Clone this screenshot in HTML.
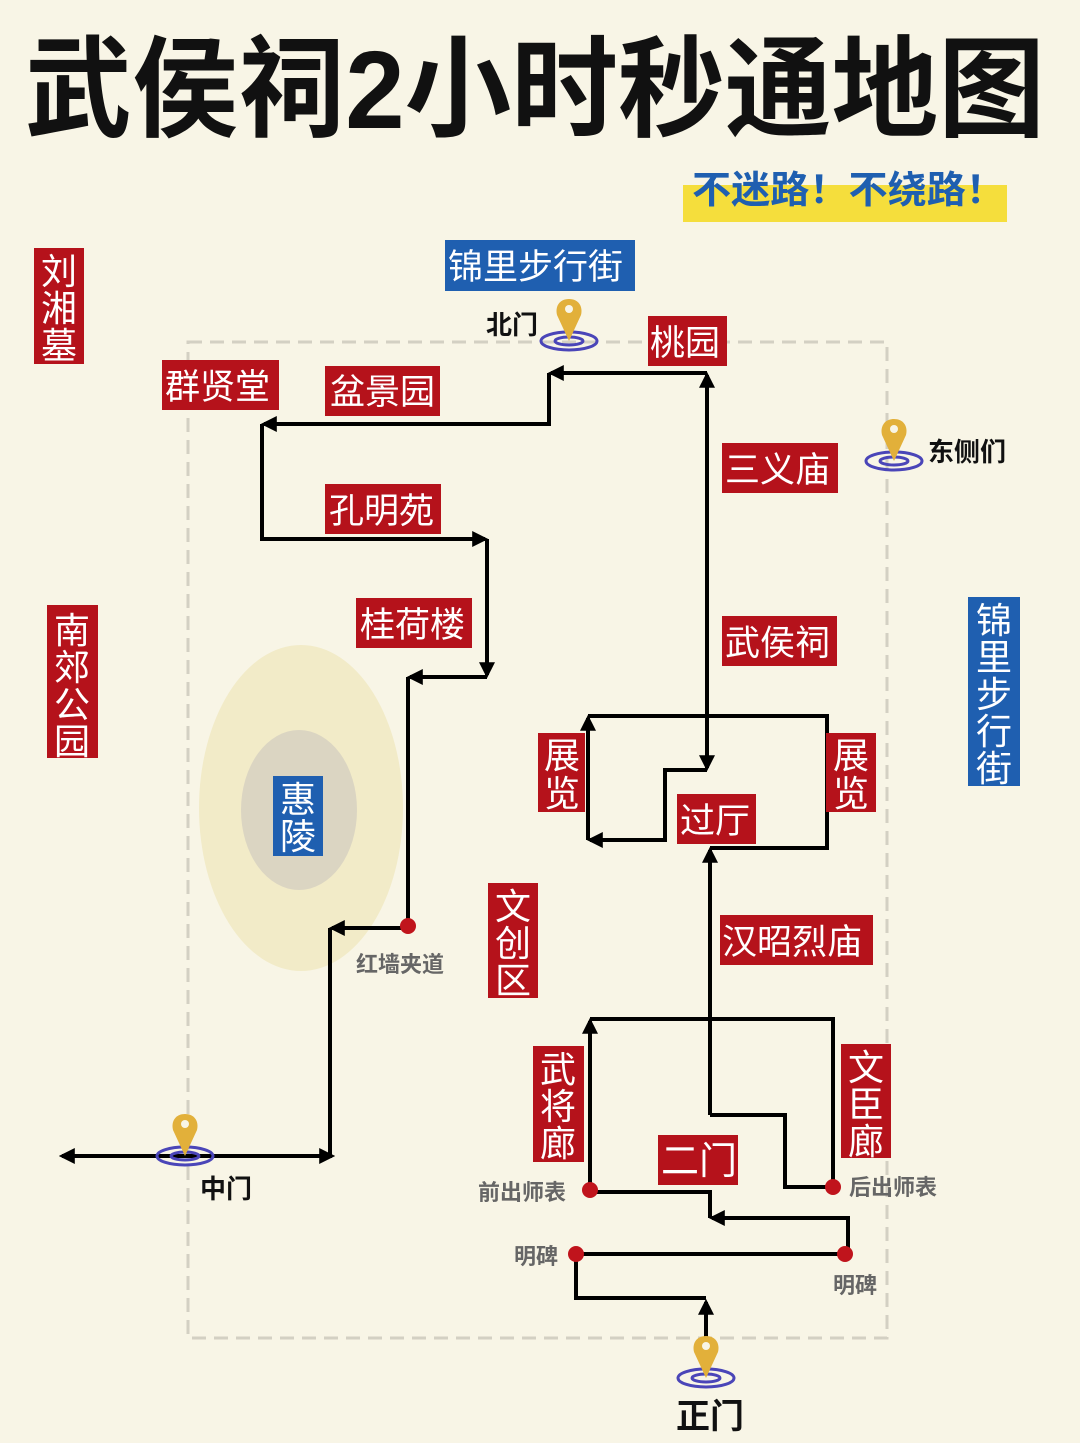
<!DOCTYPE html>
<html><head><meta charset="utf-8"><style>
html,body{margin:0;padding:0;background:#f8f5e6;}
svg{display:block}
text{font-family:"Liberation Sans","Noto Sans CJK SC",sans-serif;}
</style></head><body>
<svg width="1080" height="1443" viewBox="0 0 1080 1443" xmlns="http://www.w3.org/2000/svg">
<defs>
<marker id="a" viewBox="0 0 10 10" refX="8" refY="5" markerWidth="4" markerHeight="4" orient="auto-start-reverse"><path d="M0,0 L10,5 L0,10 z" fill="#000"/></marker>
<g id="pin"><path d="M0,-26 C-10,-26 -14,-18 -12,-10 L0,16 L12,-10 C14,-18 10,-26 0,-26z" fill="#e2b03a"/><circle cx="0" cy="-16" r="4" fill="#f8f5e6"/></g>
</defs>
<rect width="1080" height="1443" fill="#f8f5e6"/>
<text x="25" y="128" font-size="110" font-weight="bold" fill="#111" textLength="1020" lengthAdjust="spacingAndGlyphs">武侯祠2小时秒通地图</text>
<rect x="683" y="185" width="324" height="37" fill="#f5de3c"/>
<text x="692" y="203" font-size="38" font-weight="bold" fill="#1f5fb0" textLength="313" lengthAdjust="spacingAndGlyphs">不迷路！不绕路！</text>

<rect x="188" y="342" width="699" height="996" fill="none" stroke="#d3d0c3" stroke-width="3" stroke-dasharray="14,8"/>
<ellipse cx="301" cy="808" rx="102" ry="163" fill="#f2ebc8"/>
<ellipse cx="299" cy="810" rx="58" ry="80" fill="#dbd5c2"/>

<g fill="none" stroke="#000" stroke-width="4">
<path d="M707,768 L707,375" marker-start="" marker-end="url(#a)"/>
<path d="M707,700 L707,768" marker-end="url(#a)"/>
<path d="M707,373 L551,373" marker-end="url(#a)"/>
<path d="M549,373 L549,424 L264,424" marker-end="url(#a)"/>
<path d="M262,424 L262,539 L485,539" marker-end="url(#a)"/>
<path d="M487,539 L487,675" marker-end="url(#a)"/>
<path d="M487,677 L410,677" marker-end="url(#a)"/>
<path d="M408,677 L408,926"/>
<path d="M408,928 L332,928" marker-end="url(#a)"/>
<path d="M330,928 L330,1155"/>
<path d="M62,1156 L332,1156" marker-start="url(#a)" marker-end="url(#a)"/>
<path d="M707,770 L665,770 L665,840 L590,840" marker-end="url(#a)"/>
<path d="M588,840 L588,718" marker-end="url(#a)"/>
<path d="M588,716 L827,716 L827,848 L710,848"/>
<path d="M710,1115 L710,850" marker-end="url(#a)"/>
<path d="M710,1115 L785,1115 L785,1187 L833,1187 L833,1019 L590,1019"/>
<path d="M590,1190 L590,1021" marker-end="url(#a)"/>
<path d="M590,1192 L710,1192 L710,1218"/>
<path d="M848,1254 L848,1218 L712,1218" marker-end="url(#a)"/>
<path d="M576,1254 L845,1254"/>
<path d="M576,1254 L576,1298 L706,1298"/>
<path d="M706,1340 L706,1302" marker-end="url(#a)"/>
</g>
<g fill="#c0141c">
<circle cx="408" cy="926" r="8"/><circle cx="590" cy="1190" r="8"/><circle cx="833" cy="1187" r="8"/>
<circle cx="576" cy="1254" r="8"/><circle cx="845" cy="1254" r="8"/>
</g>

<g fill="none" stroke="#4a45b8" stroke-width="3">
<ellipse cx="569" cy="341" rx="28" ry="9"/><ellipse cx="569" cy="341" rx="14" ry="4"/>
<ellipse cx="894" cy="461" rx="28" ry="9"/><ellipse cx="894" cy="461" rx="14" ry="4"/>
<ellipse cx="185" cy="1156" rx="28" ry="9"/><ellipse cx="185" cy="1156" rx="14" ry="4"/>
<ellipse cx="706" cy="1378" rx="28" ry="9"/><ellipse cx="706" cy="1378" rx="14" ry="4"/>
</g>
<use href="#pin" x="569" y="325"/><use href="#pin" x="894" y="445"/>
<use href="#pin" x="185" y="1140"/><use href="#pin" x="706" y="1362"/>

<g font-weight="bold" fill="#111" font-size="26">
<text x="486" y="334">北门</text>
<text x="928" y="461">东侧们</text>
<text x="200" y="1198">中门</text>
<text x="676" y="1428" font-size="34">正门</text>
</g>
<g font-weight="bold" fill="#666" font-size="22">
<text x="356" y="972">红墙夹道</text>
<text x="478" y="1200">前出师表</text>
<text x="849" y="1195">后出师表</text>
<text x="514" y="1264">明碑</text>
<text x="833" y="1293">明碑</text>
</g>

<!-- horizontal boxes -->
<g fill="#b5121b">
<rect x="648" y="316" width="79" height="50"/><rect x="162" y="360" width="117" height="50"/>
<rect x="325" y="366" width="115" height="50"/><rect x="722" y="443" width="116" height="50"/>
<rect x="325" y="484" width="116" height="50"/><rect x="356" y="598" width="116" height="50"/>
<rect x="722" y="616" width="115" height="50"/><rect x="677" y="794" width="79" height="50"/>
<rect x="720" y="915" width="153" height="50"/><rect x="658" y="1135" width="80" height="50"/>
<rect x="34" y="248" width="50" height="116"/><rect x="47" y="605" width="51" height="153"/>
<rect x="538" y="733" width="47" height="79"/><rect x="826" y="733" width="50" height="79"/>
<rect x="488" y="883" width="50" height="115"/><rect x="533" y="1046" width="51" height="116"/>
<rect x="841" y="1044" width="50" height="114"/>
</g>
<g fill="#1f5fb0">
<rect x="445" y="240" width="190" height="51"/><rect x="968" y="597" width="52" height="189"/>
<rect x="273" y="776" width="50" height="80"/>
</g>
<g fill="#fff" font-size="35">
<text x="650" y="355">桃园</text><text x="165" y="399">群贤堂</text><text x="330" y="404">盆景园</text>
<text x="725" y="482">三义庙</text><text x="329" y="523">孔明苑</text><text x="360" y="637">桂荷楼</text>
<text x="725" y="655">武侯祠</text><text x="680" y="833">过厅</text><text x="722" y="954">汉昭烈庙</text>
<text x="661" y="1174" font-size="38">二门</text>
<text x="448" y="279">锦里步行街</text>
</g>
<g fill="#fff" font-size="36" text-anchor="middle">
<text x="59" y="284">刘</text><text x="59" y="321">湘</text><text x="59" y="358">墓</text>
<text x="72" y="643">南</text><text x="72" y="680">郊</text><text x="72" y="717">公</text><text x="72" y="754">园</text>
<text x="562" y="768">展</text><text x="562" y="806">览</text>
<text x="851" y="768">展</text><text x="851" y="806">览</text>
<text x="513" y="919">文</text><text x="513" y="956">创</text><text x="513" y="993">区</text>
<text x="558" y="1082">武</text><text x="558" y="1119">将</text><text x="558" y="1156">廊</text>
<text x="866" y="1080">文</text><text x="866" y="1117">臣</text><text x="866" y="1154">廊</text>
<text x="298" y="812">惠</text><text x="298" y="849">陵</text>
<text x="994" y="633">锦</text><text x="994" y="670">里</text><text x="994" y="707">步</text><text x="994" y="744">行</text><text x="994" y="781">街</text>
</g>
</svg>
</body></html>
